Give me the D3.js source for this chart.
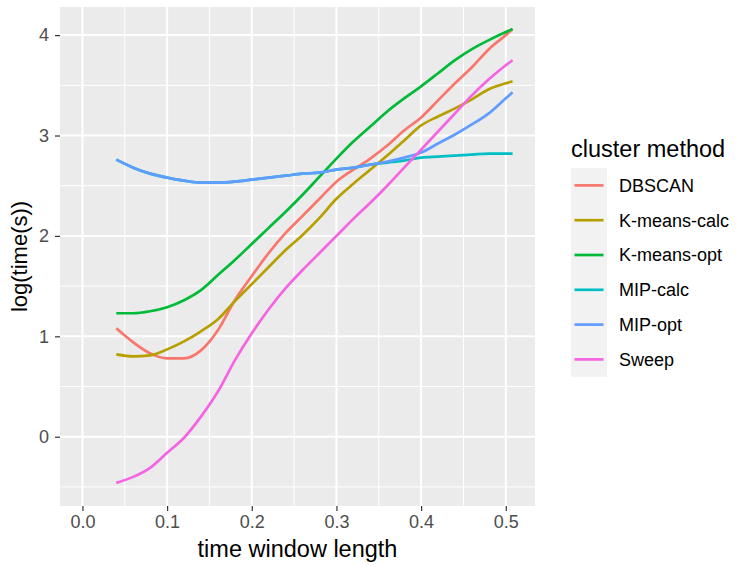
<!DOCTYPE html>
<html>
<head>
<meta charset="utf-8">
<script src="https://cdn.jsdelivr.net/npm/d3@7"></script>
<style>
  body { margin: 0; background: #ffffff; }
  text { font-family: "Liberation Sans", Arial, sans-serif; }
</style>
</head>
<body>
<script>
// x positions (time window length) shared by every series
var windowLen = [0.04, 0.06, 0.08, 0.10, 0.12, 0.14, 0.16, 0.18, 0.20, 0.22, 0.24, 0.26,
                 0.28, 0.30, 0.32, 0.34, 0.36, 0.38, 0.40, 0.42, 0.44, 0.46, 0.48, 0.50, 0.508];

// log(time(s)) per method
var dbscan      = [1.08, 0.94, 0.83, 0.78, 0.78, 0.86, 1.06, 1.36, 1.60, 1.83, 2.03, 2.20,
                   2.37, 2.54, 2.66, 2.77, 2.90, 3.05, 3.18, 3.35, 3.52, 3.68, 3.86, 4.00, 4.06];
var kmeansCalc  = [0.82, 0.80, 0.81, 0.87, 0.95, 1.05, 1.17, 1.35, 1.52, 1.69, 1.86, 2.01,
                   2.18, 2.37, 2.52, 2.66, 2.80, 2.95, 3.10, 3.19, 3.27, 3.36, 3.46, 3.52, 3.54];
var kmeansOpt   = [1.23, 1.23, 1.25, 1.29, 1.36, 1.46, 1.61, 1.76, 1.92, 2.08, 2.24, 2.41,
                   2.59, 2.77, 2.94, 3.09, 3.24, 3.37, 3.49, 3.62, 3.75, 3.86, 3.95, 4.03, 4.06];
var mipCalc     = [2.76, 2.68, 2.62, 2.58, 2.55, 2.53, 2.53, 2.54, 2.56, 2.58, 2.60, 2.62,
                   2.63, 2.66, 2.68, 2.71, 2.73, 2.75, 2.78, 2.79, 2.80, 2.81, 2.82, 2.82, 2.82];
var mipOpt      = [2.76, 2.68, 2.62, 2.58, 2.55, 2.53, 2.53, 2.54, 2.56, 2.58, 2.60, 2.62,
                   2.63, 2.66, 2.68, 2.71, 2.74, 2.78, 2.83, 2.92, 3.01, 3.11, 3.22, 3.37, 3.43];
var sweep       = [-0.46, -0.40, -0.31, -0.16, -0.01, 0.20, 0.45, 0.76, 1.03, 1.27, 1.48, 1.66,
                   1.83, 2.00, 2.17, 2.33, 2.50, 2.68, 2.86, 3.04, 3.22, 3.40, 3.56, 3.70, 3.75];

var methods = ["DBSCAN", "K-means-calc", "K-means-opt", "MIP-calc", "MIP-opt", "Sweep"];
var colours = ["#F8766D", "#B79F00", "#00BA38", "#00BFC4", "#619CFF", "#F564E3"];
var seriesValues = [dbscan, kmeansCalc, kmeansOpt, mipCalc, mipOpt, sweep];

var xTicks = [0.0, 0.1, 0.2, 0.3, 0.4, 0.5];
var xMinor = [0.05, 0.15, 0.25, 0.35, 0.45];
var yTicks = [0, 1, 2, 3, 4];
var yMinor = [-0.5, 0.5, 1.5, 2.5, 3.5];

// build rows for each method
var series = methods.map(function(m, i) {
  return { name: m, colour: colours[i],
           points: windowLen.map(function(x, j) { return { x: x, y: seriesValues[i][j] }; }) };
});

var W = 744, H = 566;
var panel = { left: 60, right: 535, top: 7, bottom: 506 };

var svg = d3.select("body").append("svg")
  .attr("width", W)
  .attr("height", H);

var x = d3.scaleLinear().domain([-0.0265, 0.5345]).range([panel.left, panel.right]);
var y = d3.scaleLinear().domain([-0.69, 4.28]).range([panel.bottom, panel.top]);

// grey panel
svg.append("rect")
  .attr("x", panel.left)
  .attr("y", panel.top)
  .attr("width", panel.right - panel.left)
  .attr("height", panel.bottom - panel.top)
  .style("fill", "#EBEBEB");

// minor grid
var grid = svg.append("g");
grid.selectAll(".yminor").data(yMinor).enter().append("line")
  .attr("x1", panel.left).attr("x2", panel.right)
  .attr("y1", function(d) { return y(d); }).attr("y2", function(d) { return y(d); })
  .style("stroke", "#ffffff").style("stroke-width", 1);
grid.selectAll(".xminor").data(xMinor).enter().append("line")
  .attr("y1", panel.top).attr("y2", panel.bottom)
  .attr("x1", function(d) { return x(d); }).attr("x2", function(d) { return x(d); })
  .style("stroke", "#ffffff").style("stroke-width", 1);

// major grid
grid.selectAll(".ymajor").data(yTicks).enter().append("line")
  .attr("x1", panel.left).attr("x2", panel.right)
  .attr("y1", function(d) { return y(d); }).attr("y2", function(d) { return y(d); })
  .style("stroke", "#ffffff").style("stroke-width", 2);
grid.selectAll(".xmajor").data(xTicks).enter().append("line")
  .attr("y1", panel.top).attr("y2", panel.bottom)
  .attr("x1", function(d) { return x(d); }).attr("x2", function(d) { return x(d); })
  .style("stroke", "#ffffff").style("stroke-width", 2);

// axes
var xAxis = d3.axisBottom(x).tickValues(xTicks).tickFormat(d3.format(".1f"))
  .tickSize(5).tickPadding(4);
var yAxis = d3.axisLeft(y).tickValues(yTicks).tickFormat(d3.format("d"))
  .tickSize(5).tickPadding(6);

var gx = svg.append("g")
  .attr("transform", "translate(0," + panel.bottom + ")")
  .call(xAxis);
var gy = svg.append("g")
  .attr("transform", "translate(" + panel.left + ",0)")
  .call(yAxis);

[gx, gy].forEach(function(g) {
  g.select(".domain").remove();
  g.selectAll(".tick line").style("stroke", "#333333").style("stroke-width", 1.2);
  g.selectAll(".tick text")
    .style("fill", "#4D4D4D")
    .style("font-size", "18px")
    .style("font-family", "'Liberation Sans', Arial, sans-serif");
});

// lines
var line = d3.line()
  .curve(d3.curveMonotoneX)
  .x(function(d) { return x(d.x); })
  .y(function(d) { return y(d.y); });

svg.selectAll(".series").data(series).enter().append("path")
  .attr("d", function(d) { return line(d.points); })
  .style("fill", "none")
  .style("stroke", function(d) { return d.colour; })
  .style("stroke-width", 2.7)
  .style("stroke-linejoin", "round");

// axis titles
svg.append("text")
  .attr("x", (panel.left + panel.right) / 2)
  .attr("y", 557)
  .style("text-anchor", "middle")
  .style("font-size", "23.5px")
  .style("fill", "#000000")
  .text("time window length");

svg.append("text")
  .attr("transform", "translate(27," + ((panel.top + panel.bottom) / 2) + ") rotate(-90)")
  .style("text-anchor", "middle")
  .style("font-size", "22px")
  .style("fill", "#000000")
  .text("log(time(s))");

// legend
var legend = svg.append("g");
legend.append("text")
  .attr("x", 571)
  .attr("y", 157)
  .style("font-size", "23.5px")
  .style("fill", "#000000")
  .text("cluster method");

var keyTop = 168, keyH = 34.8;
legend.append("rect")
  .attr("x", 571)
  .attr("y", keyTop)
  .attr("width", 36)
  .attr("height", keyH * methods.length)
  .style("fill", "#F2F2F2");

var items = legend.selectAll(".item").data(series).enter().append("g")
  .attr("transform", function(d, i) { return "translate(571," + (keyTop + keyH * i + keyH / 2) + ")"; });

items.append("line")
  .attr("x1", 3.5).attr("x2", 32.5)
  .attr("y1", 0).attr("y2", 0)
  .style("stroke", function(d) { return d.colour; })
  .style("stroke-width", 2.7);

items.append("text")
  .attr("x", 48)
  .attr("dy", "0.35em")
  .style("font-size", "18px")
  .style("fill", "#000000")
  .text(function(d) { return d.name; });
</script>
</body>
</html>
